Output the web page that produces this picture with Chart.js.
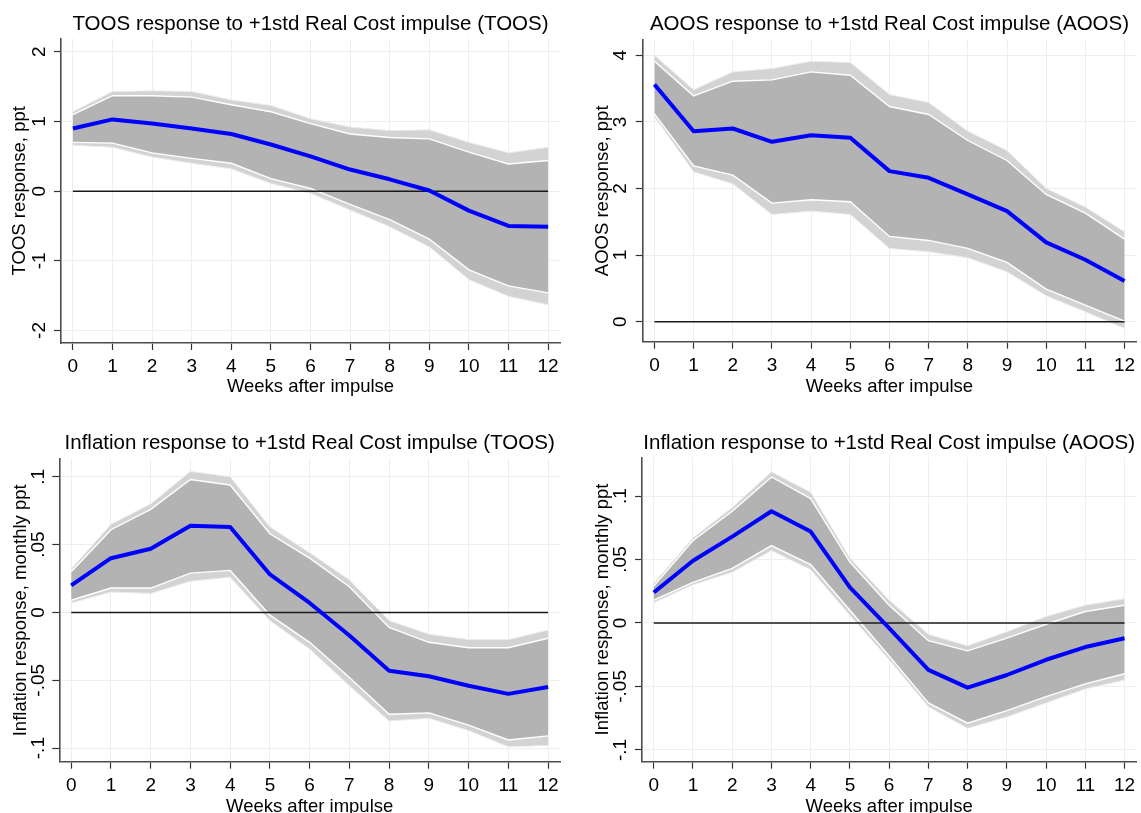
<!DOCTYPE html>
<html>
<head>
<meta charset="utf-8">
<script src="https://cdn.jsdelivr.net/npm/chart.js@4.4.1/dist/chart.umd.min.js"></script>
<style>
  html, body { margin: 0; padding: 0; background: #fff; overflow: hidden; }
  body { width: 1141px; height: 813px; position: relative; }
  canvas { position: absolute; }
</style>
</head>
<body>
<canvas id="toosChart" width="570" height="405" style="left:0px;top:0px"></canvas>
<canvas id="aoosChart" width="571" height="405" style="left:570px;top:0px"></canvas>
<canvas id="inflToosChart" width="570" height="405" style="left:0px;top:420px"></canvas>
<canvas id="inflAoosChart" width="571" height="405" style="left:570px;top:420px"></canvas>
<script>
// Weeks after impulse
const weeks = [0, 1, 2, 3, 4, 5, 6, 7, 8, 9, 10, 11, 12];

// TOOS response (ppt)
const toosMean    = [0.90, 1.03, 0.97, 0.90, 0.82, 0.67, 0.50, 0.31, 0.17, 0.01, -0.28, -0.50, -0.51];
const toosInnerHi = [1.10, 1.37, 1.37, 1.35, 1.24, 1.14, 0.97, 0.82, 0.77, 0.75, 0.56, 0.39, 0.44];
const toosOuterHi = [1.14, 1.43, 1.44, 1.43, 1.31, 1.23, 1.04, 0.92, 0.87, 0.88, 0.70, 0.55, 0.63];
const toosInnerLo = [0.70, 0.69, 0.55, 0.47, 0.40, 0.18, 0.04, -0.19, -0.41, -0.69, -1.13, -1.36, -1.46];
const toosOuterLo = [0.66, 0.63, 0.49, 0.40, 0.32, 0.11, -0.03, -0.27, -0.51, -0.80, -1.27, -1.51, -1.63];

// AOOS response (ppt)
const aoosMean    = [3.56, 2.86, 2.90, 2.70, 2.80, 2.76, 2.26, 2.16, 1.91, 1.66, 1.19, 0.93, 0.61];
const aoosInnerHi = [3.91, 3.39, 3.61, 3.63, 3.75, 3.70, 3.23, 3.11, 2.72, 2.42, 1.91, 1.63, 1.24];
const aoosOuterHi = [4.00, 3.48, 3.75, 3.80, 3.91, 3.89, 3.41, 3.29, 2.86, 2.57, 2.00, 1.72, 1.35];
const aoosInnerLo = [3.12, 2.34, 2.20, 1.78, 1.83, 1.80, 1.28, 1.22, 1.10, 0.89, 0.49, 0.25, 0.01];
const aoosOuterLo = [3.08, 2.25, 2.07, 1.61, 1.66, 1.61, 1.10, 1.05, 0.96, 0.75, 0.39, 0.15, -0.10];

// Inflation response, TOOS model (monthly ppt)
const inflToosMean    = [0.020, 0.040, 0.047, 0.064, 0.063, 0.028, 0.007, -0.017, -0.043, -0.047, -0.054, -0.060, -0.055];
const inflToosInnerHi = [0.030, 0.061, 0.076, 0.098, 0.094, 0.058, 0.040, 0.019, -0.011, -0.022, -0.026, -0.026, -0.019];
const inflToosOuterHi = [0.032, 0.065, 0.080, 0.104, 0.100, 0.063, 0.044, 0.024, -0.006, -0.016, -0.020, -0.020, -0.013];
const inflToosInnerLo = [0.009, 0.018, 0.018, 0.029, 0.031, -0.002, -0.022, -0.048, -0.075, -0.074, -0.083, -0.094, -0.091];
const inflToosOuterLo = [0.007, 0.015, 0.014, 0.023, 0.026, -0.006, -0.027, -0.054, -0.080, -0.078, -0.087, -0.099, -0.098];

// Inflation response, AOOS model (monthly ppt)
const inflAoosMean    = [0.024, 0.049, 0.068, 0.088, 0.072, 0.028, -0.004, -0.037, -0.051, -0.041, -0.029, -0.019, -0.012];
const inflAoosInnerHi = [0.029, 0.065, 0.088, 0.115, 0.098, 0.048, 0.014, -0.014, -0.022, -0.012, -0.001, 0.009, 0.014];
const inflAoosOuterHi = [0.031, 0.067, 0.091, 0.119, 0.103, 0.051, 0.018, -0.009, -0.018, -0.007, 0.005, 0.014, 0.019];
const inflAoosInnerLo = [0.018, 0.032, 0.043, 0.061, 0.046, 0.010, -0.026, -0.063, -0.079, -0.069, -0.058, -0.048, -0.040];
const inflAoosOuterLo = [0.016, 0.030, 0.040, 0.057, 0.042, 0.006, -0.029, -0.066, -0.083, -0.074, -0.063, -0.052, -0.045];

// Y tick values and their labels
const toosTicks = [-2, -1, 0, 1, 2];
const toosTickLabels = ['-2', '-1', '0', '1', '2'];
const aoosTicks = [0, 1, 2, 3, 4];
const aoosTickLabels = ['0', '1', '2', '3', '4'];
const inflTicks = [-0.1, -0.05, 0, 0.05, 0.1];
const inflTickLabels = ['-.1', '-.05', '0', '.05', '.1'];

const FONT = '"Liberation Sans", Arial, sans-serif';

// Build one Stata-style IRF panel
function drawPanel(canvasId, p) {
  const pts = arr => weeks.map((w, i) => ({ x: w, y: arr[i] }));
  const line = { pointRadius: 0, tension: 0, fill: false };

  return new Chart(document.getElementById(canvasId), {
    type: 'line',
    data: {
      datasets: [
        { ...line, data: pts(p.mean), borderColor: '#0000ff', borderWidth: 4, borderJoinStyle: 'round' },
        { ...line, data: [{ x: 0, y: 0 }, { x: 12, y: 0 }], borderColor: '#1a1a1a', borderWidth: 1.5 },
        { ...line, data: pts(p.innerHi), borderColor: '#ffffff', borderWidth: 1.4, fill: '+1', backgroundColor: '#b3b3b3' },
        { ...line, data: pts(p.innerLo), borderColor: '#ffffff', borderWidth: 1.4 },
        { ...line, data: pts(p.outerHi), borderColor: '#ececec', borderWidth: 1, fill: '+1', backgroundColor: '#d3d3d3' },
        { ...line, data: pts(p.outerLo), borderColor: '#ececec', borderWidth: 1 }
      ]
    },
    options: {
      responsive: false,
      animation: false,
      layout: { padding: { left: 0, right: p.padRight, top: 0, bottom: 0 } },
      plugins: {
        legend: { display: false },
        tooltip: { enabled: false },
        filler: { drawTime: 'beforeDatasetsDraw' },
        title: {
          display: true,
          text: p.title,
          fullSize: false,
          color: '#000',
          font: { family: FONT, size: 20.5, weight: 'normal' },
          padding: { top: p.titleTop, bottom: p.titleBottom }
        }
      },
      scales: {
        x: {
          type: 'linear',
          min: -0.3,
          max: 12.3,
          afterBuildTicks: s => { s.ticks = weeks.map(v => ({ value: v })); },
          afterFit: s => { s.height = p.xAxisH; },
          grid: { color: '#e8f0f2', lineWidth: 1, tickLength: 7, tickColor: '#333', tickWidth: 1.2 },
          border: { color: '#4d4d4d', width: 1.6 },
          ticks: { color: '#000', font: { family: FONT, size: 19 }, padding: 5.8, maxRotation: 0, autoSkip: false },
          title: {
            display: true,
            text: 'Weeks after impulse',
            color: '#000',
            font: { family: FONT, size: 18.5 },
            padding: { top: 0, bottom: 6.8 }
          }
        },
        y: {
          type: 'linear',
          min: p.yMin,
          max: p.yMax,
          afterBuildTicks: s => { s.ticks = p.yTicks.map(v => ({ value: v })); },
          afterFit: s => { s.width = p.axisX; },
          grid: { color: '#e8f0f2', lineWidth: 1, tickLength: 7, tickColor: '#333', tickWidth: 1.2 },
          border: { color: '#4d4d4d', width: 1.6 },
          ticks: {
            color: '#000',
            font: { family: FONT, size: 19 },
            minRotation: 90,
            maxRotation: 90,
            crossAlign: 'center',
            padding: p.yTickPad,
            autoSkip: false,
            callback: (v, i) => p.yTickLabels[i]
          },
          title: {
            display: true,
            text: p.yTitle,
            color: '#000',
            font: { family: FONT, size: 18.5 },
            padding: { top: p.yTitlePad, bottom: 0 }
          }
        }
      }
    }
  });
}

drawPanel('toosChart', {
  title: 'TOOS response to +1std Real Cost impulse (TOOS)',
  yTitle: 'TOOS response, ppt',
  mean: toosMean, innerHi: toosInnerHi, innerLo: toosInnerLo, outerHi: toosOuterHi, outerLo: toosOuterLo,
  yTicks: toosTicks, yTickLabels: toosTickLabels, yMin: -2.18, yMax: 2.19,
  axisX: 61, padRight: 10, titleTop: 12.5, titleBottom: 1.5, xAxisH: 62,
  yTickPad: 5.5, yTitlePad: 9
});

drawPanel('aoosChart', {
  title: 'AOOS response to +1std Real Cost impulse (AOOS)',
  yTitle: 'AOOS response, ppt',
  mean: aoosMean, innerHi: aoosInnerHi, innerLo: aoosInnerLo, outerHi: aoosOuterHi, outerLo: aoosOuterLo,
  yTicks: aoosTicks, yTickLabels: aoosTickLabels, yMin: -0.3, yMax: 4.23,
  axisX: 72.7, padRight: 0, titleTop: 12.5, titleBottom: 2.8, xAxisH: 63.3,
  yTickPad: 10, yTitlePad: 21.5
});

drawPanel('inflToosChart', {
  title: 'Inflation response to +1std Real Cost impulse (TOOS)',
  yTitle: 'Inflation response, monthly ppt',
  mean: inflToosMean, innerHi: inflToosInnerHi, innerLo: inflToosInnerLo, outerHi: inflToosOuterHi, outerLo: inflToosOuterLo,
  yTicks: inflTicks, yTickLabels: inflTickLabels, yMin: -0.11, yMax: 0.1132,
  axisX: 59.3, padRight: 10, titleTop: 10.8, titleBottom: 3.5, xAxisH: 63.3,
  yTickPad: -2.4, yTitlePad: 10
});

drawPanel('inflAoosChart', {
  title: 'Inflation response to +1std Real Cost impulse (AOOS)',
  yTitle: 'Inflation response, monthly ppt',
  mean: inflAoosMean, innerHi: inflAoosInnerHi, innerLo: inflAoosInnerLo, outerHi: inflAoosOuterHi, outerLo: inflAoosOuterLo,
  yTicks: inflTicks, yTickLabels: inflTickLabels, yMin: -0.1093, yMax: 0.1305,
  axisX: 72, padRight: 0, titleTop: 10.8, titleBottom: 1.9, xAxisH: 63.3,
  yTickPad: -2.4, yTitlePad: 22
});
</script>
</body>
</html>
